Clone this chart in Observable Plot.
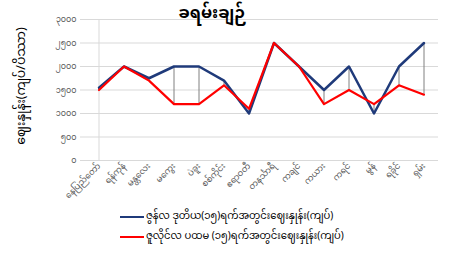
<!DOCTYPE html>
<html><head><meta charset="utf-8">
<script src="https://cdn.jsdelivr.net/npm/d3@7"></script>
<script src="https://cdn.jsdelivr.net/npm/@observablehq/plot@0.6"></script>
<style>
body{margin:0;background:#fff;font-family:"Noto Sans","Noto Sans Myanmar",sans-serif;}
#wrap{position:relative;width:459px;height:255px;overflow:hidden;}
#title{position:absolute;top:3px;left:0;width:425px;text-align:center;font-size:16px;font-weight:bold;color:#000;line-height:18px;}
#ytitle{position:absolute;left:22px;top:86px;transform:translate(-50%,-50%) rotate(-90deg);white-space:nowrap;font-size:12.5px;color:#000;}
#chart{position:absolute;top:0;left:0;}
.leg{position:absolute;left:120px;font-size:10px;color:#000;white-space:nowrap;display:flex;align-items:center;}
.leg span.sw{display:inline-block;width:24px;height:2px;margin-right:2px;}
</style></head><body>
<div id="wrap">
<div id="chart"></div>
<div id="title">ခရမ်းချဉ်</div>
<div id="ytitle">ဈေးနှုန်း(ကျပ်/ပိဿာ)</div>
<div class="leg" style="top:206px"><span class="sw" style="background:#1f3a7a"></span><span id="l1"></span></div>
<div class="leg" style="top:226px"><span class="sw" style="background:#ff0000"></span><span id="l2"></span></div>
</div>
<script>
const categories = ["နေပြည်တော်","ရန်ကုန်","မန္တလေး","မကွေး","ပဲခူး","စစ်ကိုင်း","ဧရာဝတီ","တနင်္သာရီ","ကချင်","ကယား","ကရင်","မွန်","ရခိုင်","ရှမ်း"];
const juneValues = [1550,2000,1750,2000,2000,1700,1000,2500,2000,1500,2000,1000,2000,2500];
const julyValues = [1500,2000,1700,1200,1200,1600,1100,2500,2000,1200,1500,1200,1600,1400];
const yTicks = [0,500,1000,1500,2000,2500,3000];
const seriesNames = ["ဇွန်လ ဒုတိယ(၁၅)ရက်အတွင်းဈေးနှုန်း(ကျပ်)","ဇူလိုင်လ ပထမ (၁၅)ရက်အတွင်းဈေးနှုန်း(ကျပ်)"];
const seriesColors = ["#1f3a7a","#ff0000"];

document.getElementById("l1").textContent = seriesNames[0];
document.getElementById("l2").textContent = seriesNames[1];

const mmDigits = "၀၁၂၃၄၅၆၇၈၉";
const toMM = n => String(n).replace(/[0-9]/g, d => mmDigits[+d]);

const june = categories.map((c,i)=>({cat:c, v:juneValues[i]}));
const july = categories.map((c,i)=>({cat:c, v:julyValues[i]}));
const hl = categories.map((c,i)=>({cat:c, lo:Math.min(juneValues[i],julyValues[i]), hi:Math.max(juneValues[i],julyValues[i])}));

const chart = Plot.plot({
  width:459, height:200,
  marginLeft:83, marginRight:21, marginTop:19, marginBottom:40,
  style:{fontFamily:'"Noto Sans","Noto Sans Myanmar",sans-serif', background:"transparent"},
  x:{type:"band", domain:categories, padding:0, axis:null},
  y:{domain:[0,3000], axis:null},
  marks:[
    Plot.ruleY(yTicks,{stroke:"#d9d9d9", strokeWidth:1}),
    Plot.ruleX([0],{x:()=>categories[0], frameAnchor:"left", stroke:"#d9d9d9"}),
    Plot.axisY({ticks:yTicks, tickFormat:toMM, tickSize:3, stroke:"#d9d9d9", tickPadding:4, fontSize:8, color:"#595959", label:null}),
    Plot.axisX({tickSize:0, tickRotate:-45, tickPadding:4, fontSize:8.5, color:"#595959", label:null}),
    Plot.ruleX(hl,{x:"cat", y1:"lo", y2:"hi", stroke:"#808080", strokeWidth:1}),
    Plot.lineY(june,{x:"cat", y:"v", stroke:seriesColors[0], strokeWidth:2.5}),
    Plot.lineY(july,{x:"cat", y:"v", stroke:seriesColors[1], strokeWidth:2.2})
  ]
});
document.getElementById("chart").appendChild(chart);
</script>
</body></html>
